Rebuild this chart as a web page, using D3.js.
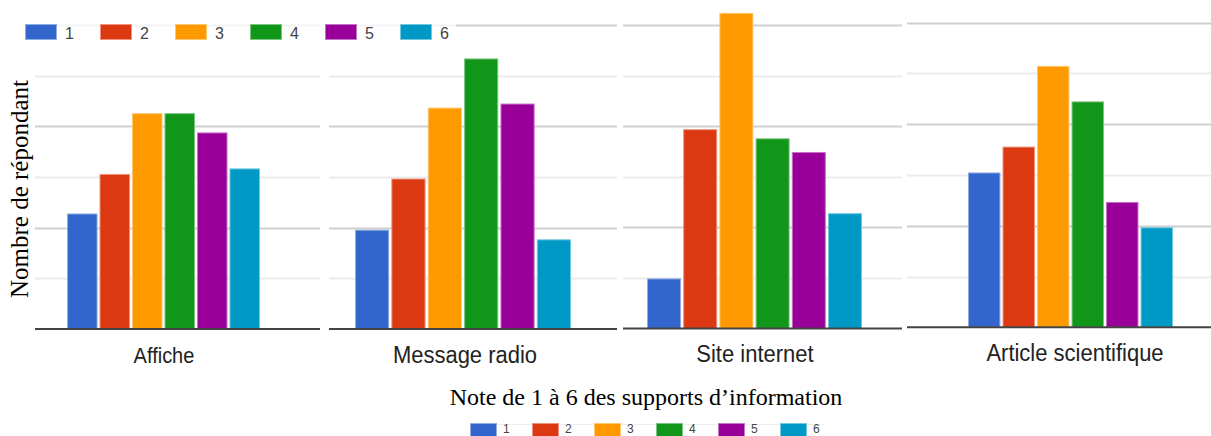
<!DOCTYPE html>
<html>
<head>
<meta charset="utf-8">
<script src="https://cdn.jsdelivr.net/npm/d3@7"></script>
<style>
  html, body { margin: 0; padding: 0; background: #fff; }
  svg { display: block; }
</style>
</head>
<body>
<svg id="chart" width="1211" height="436"></svg>
<script>
// ---------- DATA ----------
const categories = ["Affiche", "Message radio", "Site internet", "Article scientifique"];
const seriesNames = ["1", "2", "3", "4", "5", "6"];
const valuesAffiche = [22.8, 30.6, 42.6, 42.6, 38.8, 31.7];
const valuesRadio = [19.6, 29.7, 43.7, 53.4, 44.5, 17.7];
const valuesInternet = [9.9, 39.4, 62.4, 37.6, 34.9, 22.8];
const valuesArticle = [30.5, 35.6, 51.5, 44.5, 24.7, 19.7];
const gridTicks = [10, 20, 30, 40, 50, 60];
const yTitle = "Nombre de répondant";
const xTitle = "Note de 1 à 6 des supports d’information";

// ---------- STYLE / LAYOUT ----------
const colors = ["#3366cc", "#dc3912", "#ff9900", "#109618", "#990099", "#0099c6"];
const allValues = [valuesAffiche, valuesRadio, valuesInternet, valuesArticle];
// each panel is a separately captured chart (slightly different geometry)
const panels = [
  { gx0: 35,  gx1: 320,  bx0: 67,  bx1: 260,  base: 329,   top: 25,   labelX: 164,  labelY: 363, fs: 20 },
  { gx0: 329, gx1: 617,  bx0: 355, bx1: 571,  base: 329,   top: 25,   labelX: 465,  labelY: 363, fs: 22 },
  { gx0: 623, gx1: 902,  bx0: 647, bx1: 862,  base: 328.5, top: 25,   labelX: 755,  labelY: 362, fs: 22 },
  { gx0: 907, gx1: 1211, bx0: 968, bx1: 1173, base: 327.3, top: 22.7, labelX: 1075, labelY: 361.5, fs: 22 }
];

const svg = d3.select("#chart");

panels.forEach((p, i) => {
  const y = d3.scaleLinear().domain([0, 60]).range([p.base, p.top]);
  const x = d3.scaleBand().domain(seriesNames).range([p.bx0, p.bx1]).paddingInner(0.06);
  const g = svg.append("g");

  // gridlines
  g.selectAll("line.grid").data(gridTicks).join("line")
    .attr("class", "grid")
    .attr("x1", p.gx0).attr("x2", p.gx1)
    .attr("y1", d => Math.round(y(d)) + 0.5).attr("y2", d => Math.round(y(d)) + 0.5)
    .attr("stroke", d => (d % 20 === 0) ? "#cfcfcf" : "#ececec")
    .attr("stroke-width", 2);

  // bars
  const vals = allValues[i];
  g.selectAll("rect.bar").data(seriesNames).join("rect")
    .attr("class", "bar")
    .attr("x", d => x(d) + 0.5)
    .attr("width", x.bandwidth() - 1)
    .attr("y", (d, j) => y(vals[j]) + 0.5)
    .attr("height", (d, j) => p.base - y(vals[j]) - 0.5)
    .attr("fill", (d, j) => colors[j])
    .attr("stroke", (d, j) => d3.interpolateRgb(colors[j], "#ffffff")(0.45))
    .attr("stroke-width", 1);

  // baseline
  g.append("line")
    .attr("x1", p.gx0).attr("x2", p.gx1)
    .attr("y1", p.base).attr("y2", p.base)
    .attr("stroke", "#444").attr("stroke-width", 2);

  // category label
  g.append("text")
    .attr("x", p.labelX).attr("y", p.labelY)
    .attr("text-anchor", "middle")
    .attr("font-family", "Liberation Sans, Arial, sans-serif")
    .attr("font-size", p.fs)
    .attr("fill", "#222")
    .attr("transform", `translate(0,${p.labelY}) scale(1,1.12) translate(0,${-p.labelY})`)
    .text(categories[i]);
});

// top legend (overlaying the top gridline)
svg.append("rect").attr("x", 20).attr("y", 17).attr("width", 436).attr("height", 26)
  .attr("fill", "#fff").attr("opacity", 0.75);
const topLeg = svg.append("g");
topLeg.selectAll("rect").data(seriesNames).join("rect")
  .attr("x", (d, i) => 25.5 + i * 75).attr("y", 24.5)
  .attr("width", 31).attr("height", 15)
  .attr("fill", (d, i) => colors[i])
  .attr("stroke", (d, i) => d3.interpolateRgb(colors[i], "#ffffff")(0.45));
topLeg.selectAll("text").data(seriesNames).join("text")
  .attr("x", (d, i) => 65 + i * 75).attr("y", 38.5)
  .attr("font-family", "Liberation Sans, Arial, sans-serif")
  .attr("font-size", 16).attr("fill", "#444")
  .text(d => d);

// y axis title
svg.append("text")
  .attr("transform", "translate(28,189) rotate(-90)")
  .attr("text-anchor", "middle")
  .attr("font-family", "Liberation Serif, Times New Roman, serif")
  .attr("font-size", 25).attr("fill", "#000")
  .text(yTitle);

// x axis title
svg.append("text")
  .attr("x", 646).attr("y", 405)
  .attr("text-anchor", "middle")
  .attr("font-family", "Liberation Serif, Times New Roman, serif")
  .attr("font-size", 24).attr("fill", "#000")
  .text(xTitle);

// bottom legend (swatches run to the image edge)
svg.append("line").attr("x1", 470).attr("x2", 825).attr("y1", 424.5).attr("y2", 424.5)
  .attr("stroke", "#eee").attr("stroke-width", 1);
const botLeg = svg.append("g");
botLeg.selectAll("rect").data(seriesNames).join("rect")
  .attr("x", (d, i) => 470.5 + i * 62).attr("y", 423.5)
  .attr("width", 26).attr("height", 13)
  .attr("fill", (d, i) => colors[i])
  .attr("stroke", (d, i) => d3.interpolateRgb(colors[i], "#ffffff")(0.45));
botLeg.selectAll("text").data(seriesNames).join("text")
  .attr("x", (d, i) => 503 + i * 62).attr("y", 432.5)
  .attr("font-family", "Liberation Sans, Arial, sans-serif")
  .attr("font-size", 12).attr("fill", "#444")
  .text(d => d);
</script>
</body>
</html>
